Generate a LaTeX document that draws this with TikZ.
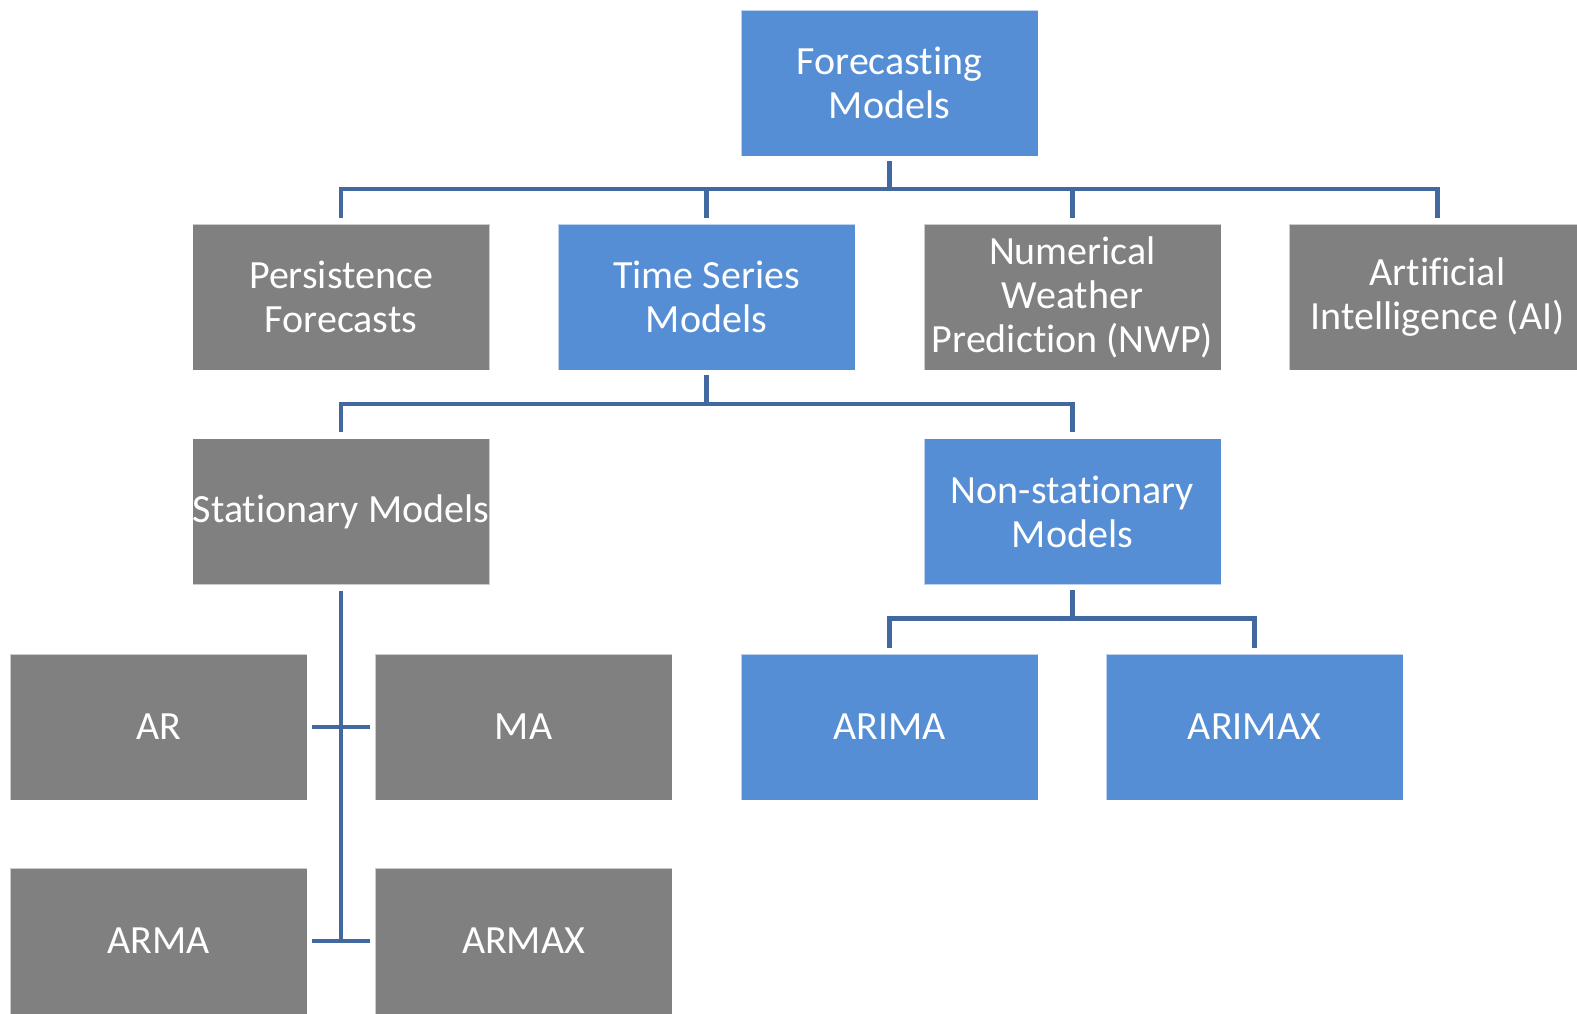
\documentclass[tikz,border=0pt]{standalone}
\usepackage{fontspec}
\setmainfont[Ligatures=NoCommon]{Carlito}
\definecolor{boxgray}{HTML}{808080}
\definecolor{boxblue}{HTML}{558ED5}
\definecolor{connblue}{HTML}{41699F}
\begin{document}
\begin{tikzpicture}[x=1pt,y=-1pt,
  box/.style={rectangle, minimum width=297pt, minimum height=146pt, inner sep=0pt,
    draw=white, draw opacity=0.6, line width=0.8pt, text=white, align=center,
    font=\fontsize{40}{44}\selectfont},
  graybox/.style={box, fill=boxgray},
  bluebox/.style={box, fill=boxblue},
  conn/.style={draw=connblue, line width=4.5pt, line cap=butt, line join=miter}]
\useasboundingbox (0,0) rectangle (1577,1013);
\clip (0,0) rectangle (1577,1013);
\fill[white] (0,0) rectangle (1577,1013);
% nodes
\node[bluebox] (FM) at (889.5,83) {Forecasting\\Models};
\node[graybox] (PF) at (341,297) {Persistence\\Forecasts};
\node[bluebox] (TS) at (706.5,297) {Time Series\\Models};
\node[graybox] (NWP) at (1072.5,297) {Numerical\\Weather\\Prediction (NWP)};
\node[graybox] (AI) at (1437.5,297) {Artificial\\Intelligence (AI)};
\node[graybox] (SM) at (341,511.5) {Stationary Models};
\node[bluebox] (NS) at (1072.5,511.5) {Non-stationary\\Models};
\node[graybox] (AR) at (158.5,727) {AR};
\node[graybox] (MA) at (523.5,727) {MA};
\node[bluebox] (ARIMA) at (889.5,727) {ARIMA};
\node[bluebox] (ARIMAX) at (1254.5,727) {ARIMAX};
\node[graybox] (ARMA) at (158.5,941) {ARMA};
\node[graybox] (ARMAX) at (523.5,941) {ARMAX};
% level 1 connectors
\coordinate (b1) at (889.5,189);
\draw[conn] ([yshift=-5pt]FM.south) -- (b1);
\draw[conn] ([yshift=6pt]PF.north) -- (PF.north |- b1) -- (AI.north |- b1) -- ([yshift=6pt]AI.north);
\draw[conn] ([yshift=6pt]TS.north) -- (TS.north |- b1);
\draw[conn] ([yshift=6pt]NWP.north) -- (NWP.north |- b1);
% time series connectors
\coordinate (b2) at (706.5,404);
\draw[conn] ([yshift=-5pt]TS.south) -- (b2);
\draw[conn] ([yshift=6pt]SM.north) -- (SM.north |- b2) -- (NS.north |- b2) -- ([yshift=6pt]NS.north);
% non-stationary connectors
\coordinate (b3) at (1072.5,618.5);
\draw[conn] ([yshift=-5pt]NS.south) -- (b3);
\draw[conn] ([yshift=6pt]ARIMA.north) -- (ARIMA.north |- b3) -- (ARIMAX.north |- b3) -- ([yshift=6pt]ARIMAX.north);
% stationary connectors
\coordinate (s1) at (341,727);
\coordinate (s2) at (341,941);
\draw[conn] ([yshift=-6pt]SM.south) -- (s2);
\draw[conn] ([xshift=5pt]AR.east |- s1) -- ([xshift=-5pt]MA.west |- s1);
\draw[conn] ([xshift=5pt]ARMA.east |- s2) -- ([xshift=-5pt]ARMAX.west |- s2);
\end{tikzpicture}
\end{document}
